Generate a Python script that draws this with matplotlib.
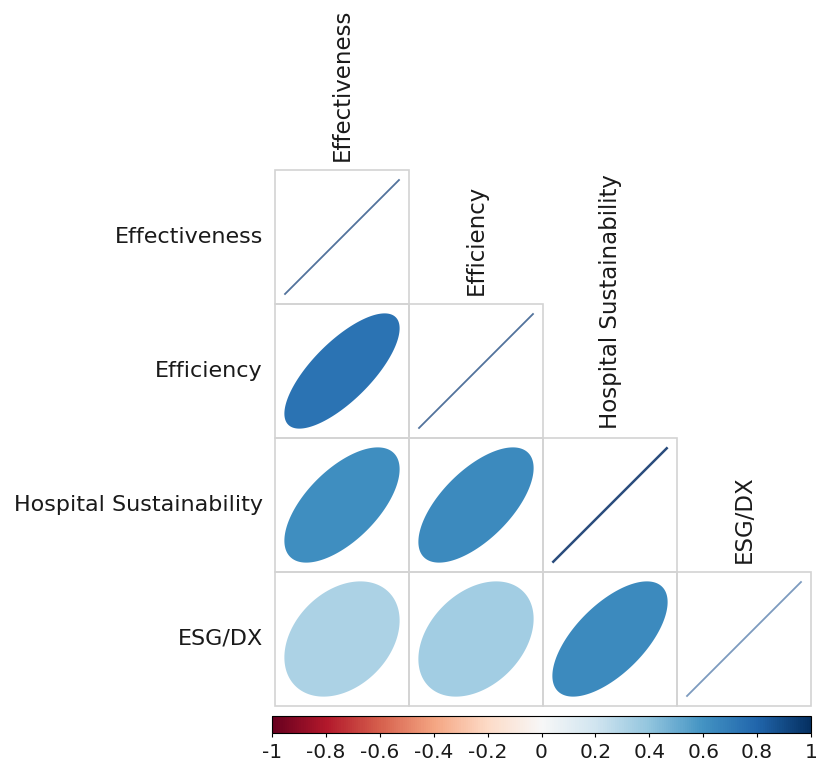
import numpy as np
import matplotlib
matplotlib.use("Agg")
import matplotlib.pyplot as plt
from matplotlib.patches import Polygon, Rectangle
from matplotlib.colors import Normalize
from matplotlib.cm import ScalarMappable

variables = ["Effectiveness", "Efficiency", "Hospital Sustainability", "ESG/DX"]
# lower-triangle correlations, row by row (row i, columns 0..i)
corr = [
    [1.00],
    [0.74, 1.00],
    [0.62, 0.64, 1.00],
    [0.32, 0.35, 0.64, 1.00],
]
diag_colors = ["#52739c", "#52739c", "#2a4c7c", "#7d9bbf"]
cbar_ticks = [-1, -0.8, -0.6, -0.4, -0.2, 0, 0.2, 0.4, 0.6, 0.8, 1]

plt.rcParams["font.family"] = ["DejaVu Sans"]
cmap = plt.get_cmap("RdBu")
norm = Normalize(-1, 1)
n = len(variables)

fig = plt.figure(figsize=(8.2, 7.69), dpi=100)
ax = fig.add_axes([275 / 820, 63 / 769, 536 / 820, 536 / 769])
ax.set_xlim(0, n)
ax.set_ylim(n, 0)
ax.axis("off")

half = 0.43
t = np.linspace(0, 2 * np.pi, 200)
for i in range(n):
    for j in range(i + 1):
        ax.add_patch(Rectangle((j, i), 1, 1, fill=False, edgecolor="#d3d3d3",
                               linewidth=1.2, clip_on=False))
        r = corr[i][j]
        cx, cy = j + 0.5, i + 0.5
        if i == j:
            ax.plot([cx - half, cx + half], [cy + half, cy - half],
                    color=diag_colors[i], linewidth=1.3 if i != 2 else 1.8,
                    solid_capstyle="butt")
        else:
            d = np.arccos(r)
            xs = cx + half * np.cos(t + d / 2)
            ys = cy - half * np.cos(t - d / 2)
            ax.add_patch(Polygon(np.column_stack([xs, ys]), closed=True,
                                 facecolor=cmap(norm(r)), edgecolor="none"))

for i, name in enumerate(variables):
    ax.text(-0.09, i + 0.5, name, ha="right", va="center", fontsize=16,
            color="#1a1a1a")
    ax.text(i + 0.5, i - 0.07, name, ha="center", va="bottom", rotation=90,
            fontsize=16.5, color="#1a1a1a")

cax = fig.add_axes([272 / 820, 36 / 769, 539 / 820, 17 / 769])
cb = fig.colorbar(ScalarMappable(norm=norm, cmap=cmap), cax=cax,
                  orientation="horizontal")
cb.set_ticks(cbar_ticks)
cb.set_ticklabels([f"{v:g}" for v in cbar_ticks])
cb.outline.set_linewidth(0.8)
cax.tick_params(length=3, width=0.8, labelsize=14.5, pad=4, labelcolor="#1a1a1a")

fig.savefig("out.png", dpi=100, facecolor="white")
